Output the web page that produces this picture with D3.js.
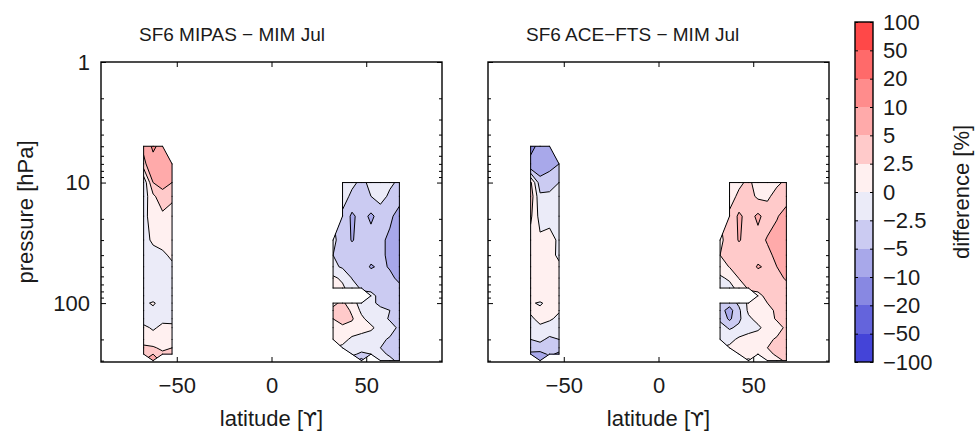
<!DOCTYPE html>
<html><head><meta charset="utf-8">
<script src="https://cdn.jsdelivr.net/npm/d3@7"></script>
<style>
body{margin:0;background:#fff;}
svg text{font-family:"Liberation Sans",Arial,Helvetica,sans-serif;}
</style></head><body>
<svg id="chart" width="976" height="433"></svg>
<script>
// ---------------- data ----------------
const latSouth = [-67.5, -62.5, -57.5, -52.5];
const latNorth = [32.5, 37.5, 42.5, 47.5, 52.5, 57.5, 62.5, 67.5];
const pressureLevels = [5, 7, 10, 13, 19, 30, 40, 50, 62, 75, 87, 100, 115, 135, 160, 200, 235, 265, 300];

// rows = pressure levels (top to bottom), columns = latitudes; null = no data
const mipasSouth = [
  [6, 11, 8, null],
  [4, 8, 7, 6],
  [-2, 5, 6, 5],
  [-1.5, 2, 4, 3],
  [-1, 1.5, 2, 1.5],
  [-1, 0.5, 1, 0.8],
  [-1, -1, -0.5, 0.5],
  [-1, -1.5, -1, -0.5],
  [-1, -0.8, -1.5, -0.5],
  [-1, -1.2, -1, -1],
  [-0.5, -1.3, -1.5, -0.8],
  [-0.5, 0.3, -1, -1],
  [-0.8, -0.5, -1.2, -0.5],
  [-1, -1, -0.5, -1],
  [0.5, -0.3, 0.5, 0.8],
  [1.5, 1, 2, 1.5],
  [3, 2.8, 2, 2.5],
  [4, 5, 3, 4],
  [null, 6, null, null]
];
const mipasNorth = [
  [null, null, null, null, null, null, null, null],
  [null, null, null, null, null, null, null, null],
  [null, -1, -2, -3, -2, -1.5, -2, -3],
  [null, -1.5, -3, -3.5, -2.5, -1.5, -3, -4],
  [null, -3, -5.5, -4, -5.5, -4, -4.5, -6],
  [-2, -3.5, -5.2, -4, -4, -4.5, -5.5, -7],
  [-2.5, -3, -3.5, -3.8, -4, -4.5, -5.5, -6.5],
  [-2, -2.8, -3, -3.5, -5.3, -4.5, -5.2, -6],
  [0.5, -0.5, -2.6, -3, -3.5, -4, -4.5, -5.5],
  [1.2, 0.5, -1.5, -2.8, -3, -3.5, -4, -4.5],
  [null, null, null, null, -2, -3, -3.5, -4],
  [2, 3, 1, -1, -2, -3, -3, -3.5],
  [3, 4, 2, -0.5, -1.5, -2, -2.5, -3],
  [2.5, 3.5, 2.8, 0.5, -1, -1.5, -2.8, -3],
  [1.5, 2, 1.5, 1, 0.5, -1, -1.5, -3],
  [0.5, 0.8, -0.5, -1, -1.5, -2, -2.8, -3],
  [null, -0.5, -1, -1.5, -2, -2.5, -3, -3],
  [null, null, -2, -3, -2.5, -2, -2.8, -3],
  [null, null, null, -6, null, -1, -2, -3]
];
const aceSouth = [
  [-12, -8, -7, null],
  [-8, -7, -6, -5],
  [3, -4, -3.5, -2.5],
  [4, -2, -2, -1.5],
  [3, -1, -1, -0.5],
  [1.5, 0.5, 1, -0.5],
  [1, 1, 0.5, -0.3],
  [0.5, 1.2, 0.5, 0.3],
  [0.8, 0.7, 1, 0.4],
  [0.5, 1, 1.2, 0.5],
  [0.5, 1.5, 0.8, 0.8],
  [0.3, -0.3, 0.8, 0.5],
  [0.5, 0.5, 1, 0.2],
  [-0.5, 0.8, 0.3, -0.5],
  [-1, -0.5, -1, -1.2],
  [-2.5, -2, -3, -2.5],
  [-4, -3.5, -3, -4],
  [-5.5, -6, -4.5, -5.5],
  [null, -7, null, null]
];
const aceNorth = [
  [null, null, null, null, null, null, null, null],
  [null, null, null, null, null, null, null, null],
  [null, 1, 2, 3, 1.5, 1, 2, 3],
  [null, 1.5, 3, 3.5, 2, 2, 3.5, 4],
  [null, 3, 5.5, 4, 5.5, 4, 4.8, 6],
  [2, 3.5, 5.2, 4, 4.2, 5.2, 6, 7],
  [2.5, 3, 3.5, 3.8, 4, 4.5, 5.5, 6.5],
  [1.5, 2.6, 3, 3.5, 5.3, 4.5, 5, 5.8],
  [-0.5, 0.5, 2.6, 3, 3.5, 4, 4.5, 5.2],
  [-1.5, -1, 1, 2.8, 3, 3.5, 4, 4.5],
  [null, null, null, null, 2, 3, 3.5, 4],
  [-3, -4, -2, 0.5, 1.5, 2.5, 3, 3.5],
  [-4, -6, -3, 0.5, 1, 2, 2.8, 3.2],
  [-3, -5.5, -3, -0.5, 0.8, 1.5, 2.8, 3],
  [-1.5, -2.8, -2, -1, -0.5, 1, 1.5, 3],
  [-0.5, -0.8, 0.5, 1, 1.5, 2, 2.8, 3],
  [null, 0.5, 1, 1.5, 2, 2.5, 3, 3],
  [null, null, 2, 2.5, 2.5, 2, 2.8, 3],
  [null, null, null, -1, null, 1, 2, 2.8]
];

const contourLevels = [-100, -50, -20, -10, -5, -2.5, 0, 2.5, 5, 10, 20, 50, 100];
const xTickValues = [-50, 0, 50];
const yTickValues = [1, 10, 100];
const yMinorTicks = [2, 3, 4, 5, 6, 7, 8, 9, 20, 30, 40, 50, 60, 70, 80, 90, 200, 300];
const panelTitles = ["SF6 MIPAS \u2212 MIM Jul", "SF6 ACE\u2212FTS \u2212 MIM Jul"];

// ---------------- style ----------------
const bandColors = ["#4444d8", "#6464dc", "#8888e2", "#a8a8ea", "#cbcbf2", "#ebebf8",
                    "#fff0f0", "#ffcaca", "#ffaaaa", "#ff8c8c", "#ff6a6a", "#ff4848"];
const FS = 22, TFS = 19;
const y0 = 62, y1 = 362;
const svg = d3.select("#chart");
const yScale = d3.scaleLog().domain([1, 308]).range([y0, y1]);
const fmt = d => (d < 0 ? "\u2212" + Math.abs(d) : String(d));

function drawStrip(g, xScale, lats, grid, clipId) {
  const nx = lats.length, ny = pressureLevels.length;
  const valid = grid.map(r => r.map(v => v !== null));
  let vals = grid.map(r => r.slice());
  let guard = 0;
  while (vals.some(r => r.some(v => v === null)) && guard++ < 50) {
    const nv = vals.map(r => r.slice());
    for (let j = 0; j < ny; j++) for (let i = 0; i < nx; i++) {
      if (vals[j][i] !== null) continue;
      const nb = [[i-1,j],[i+1,j],[i,j-1],[i,j+1]]
        .filter(([a,b]) => a >= 0 && a < nx && b >= 0 && b < ny && vals[b][a] !== null)
        .map(([a,b]) => vals[b][a]);
      if (nb.length) nv[j][i] = d3.mean(nb);
    }
    vals = nv;
  }
  const flat = [];
  for (let j = 0; j < ny; j++) for (let i = 0; i < nx; i++) flat.push(vals[j][i]);

  const logP = pressureLevels.map(Math.log10);
  const dLat = lats[1] - lats[0];
  const ry = f => {
    let i = Math.floor(f); i = Math.max(0, Math.min(ny - 2, i));
    const t = f - i;
    return yScale(Math.pow(10, logP[i] + t * (logP[i+1] - logP[i])));
  };
  const rx = f => xScale(lats[0] + f * dLat);
  const proj = d3.geoTransform({ point(x, y) { this.stream.point(rx(x - 0.5), ry(y - 0.5)); } });
  const path = d3.geoPath(proj);

  const gp = (i, j) => [xScale(lats[i]), yScale(pressureLevels[j])];
  let clipD = "";
  const edges = new Map();
  for (let j = 0; j < ny - 1; j++) for (let i = 0; i < nx - 1; i++) {
    const corners = [[i,j],[i+1,j],[i+1,j+1],[i,j+1]].filter(([a,b]) => valid[b][a]);
    if (corners.length < 3) continue;
    clipD += "M" + corners.map(([a,b]) => gp(a,b).join(",")).join("L") + "Z";
    corners.forEach((c, k) => {
      const d = corners[(k + 1) % corners.length];
      const key = [c.join(","), d.join(",")].sort().join("|");
      edges.set(key, (edges.get(key) || 0) + 1);
    });
  }
  g.append("clipPath").attr("id", clipId).append("path").attr("d", clipD);

  const fillG = g.append("g").attr("clip-path", `url(#${clipId})`);
  const lineG = g.append("g").attr("clip-path", `url(#${clipId})`);
  fillG.append("path").attr("d", clipD).attr("fill", bandColors[0]);
  const gen = d3.contours().size([nx, ny]);
  contourLevels.slice(1, -1).forEach((t, k) => {
    const geom = gen.contour(flat, t);
    const d = path(geom);
    if (!d) return;
    fillG.append("path").attr("d", d).attr("fill", bandColors[k + 1]);
    lineG.append("path").attr("d", d).attr("fill", "none")
      .attr("stroke", "#000").attr("stroke-width", 1).attr("stroke-linejoin", "round");
  });
  let outD = "";
  edges.forEach((cnt, key) => {
    if (cnt !== 1) return;
    const [a, b] = key.split("|").map(s => s.split(",").map(Number));
    outD += "M" + gp(a[0], a[1]).join(",") + "L" + gp(b[0], b[1]).join(",");
  });
  g.append("path").attr("d", outD).attr("fill", "none").attr("stroke", "#000")
    .attr("stroke-width", 1).attr("stroke-linecap", "round");
}

function styleAxis(sel) {
  sel.attr("font-size", FS).attr("font-family", '"Liberation Sans", Arial, sans-serif').attr("color", "#000");
  sel.select(".domain").remove();
  sel.selectAll(".tick line").attr("stroke-width", 1);
  sel.selectAll(".tick text").attr("fill", "#1a1a1a");
}

const panels = [
  { x0: 101, x1: 442, south: mipasSouth, north: mipasNorth, title: panelTitles[0], ylabels: true },
  { x0: 488, x1: 829, south: aceSouth, north: aceNorth, title: panelTitles[1], ylabels: false }
];

panels.forEach((p, pi) => {
  const xScale = d3.scaleLinear().domain([-90, 90]).range([p.x0, p.x1]);
  const g = svg.append("g");
  drawStrip(g, xScale, latSouth, p.south, `clip${pi}s`);
  drawStrip(g, xScale, latNorth, p.north, `clip${pi}n`);

  g.append("g").attr("transform", `translate(0,${y1})`)
    .call(d3.axisBottom(xScale).tickValues(xTickValues).tickSizeInner(-5).tickSizeOuter(0).tickPadding(15).tickFormat(fmt))
    .call(styleAxis);
  g.append("g").attr("transform", `translate(0,${y0})`)
    .call(d3.axisTop(xScale).tickValues(xTickValues).tickSizeInner(-5).tickSizeOuter(0).tickFormat(""))
    .call(styleAxis);
  g.append("g").attr("transform", `translate(${p.x0},0)`)
    .call(d3.axisLeft(yScale).tickValues(yTickValues).tickSizeInner(-5).tickSizeOuter(0).tickPadding(11)
      .tickFormat(p.ylabels ? d => String(d) : ""))
    .call(styleAxis);
  g.append("g").attr("transform", `translate(${p.x0},0)`)
    .call(d3.axisLeft(yScale).tickValues(yMinorTicks).tickSizeInner(-3).tickSizeOuter(0).tickFormat(""))
    .call(styleAxis);
  g.append("g").attr("transform", `translate(${p.x1},0)`)
    .call(d3.axisRight(yScale).tickValues(yTickValues).tickSizeInner(-5).tickSizeOuter(0).tickFormat(""))
    .call(styleAxis);
  g.append("g").attr("transform", `translate(${p.x1},0)`)
    .call(d3.axisRight(yScale).tickValues(yMinorTicks).tickSizeInner(-3).tickSizeOuter(0).tickFormat(""))
    .call(styleAxis);

  g.append("rect").attr("x", p.x0).attr("y", y0).attr("width", p.x1 - p.x0).attr("height", y1 - y0)
    .attr("fill", "none").attr("stroke", "#000").attr("stroke-width", 1.4);

  const cx = (p.x0 + p.x1) / 2;
  g.append("text").attr("x", p.x0 + 38).attr("y", 41).attr("text-anchor", "start")
    .attr("font-size", TFS).attr("fill", "#1a1a1a").text(p.title);
  const xl = g.append("text").attr("x", cx).attr("y", 426).attr("text-anchor", "middle")
    .attr("font-size", FS).attr("fill", "#1a1a1a");
  xl.append("tspan").text("latitude [");
  xl.append("tspan").attr("font-family", '"DejaVu Sans", sans-serif').attr("font-size", FS - 2).text("\u03D2");
  xl.append("tspan").text("]");
  if (p.ylabels) {
    g.append("text").attr("transform", `translate(25,${(y0 + y1) / 2}) rotate(-90)`)
      .attr("text-anchor", "middle").attr("dominant-baseline", "central")
      .attr("font-size", FS).attr("fill", "#1a1a1a").text("pressure [hPa]");
  }
});

// ---------------- colorbar ----------------
const cbX0 = 855, cbX1 = 873, cbY0 = 22, cbY1 = 362;
const cbScale = d3.scaleLinear().domain([0, bandColors.length]).range([cbY1, cbY0]);
const cb = svg.append("g");
cb.selectAll("rect.band").data(bandColors).join("rect").attr("class", "band")
  .attr("x", cbX0).attr("width", cbX1 - cbX0)
  .attr("y", (c, i) => cbScale(i + 1)).attr("height", (c, i) => cbScale(i) - cbScale(i + 1))
  .attr("fill", c => c).attr("shape-rendering", "crispEdges");
cb.append("g").attr("transform", `translate(${cbX1},0)`)
  .call(d3.axisRight(cbScale).tickValues(d3.range(contourLevels.length)).tickSizeInner(-3).tickSizeOuter(0)
    .tickPadding(10).tickFormat(i => fmt(contourLevels[i])))
  .call(styleAxis);
cb.append("g").attr("transform", `translate(${cbX0},0)`)
  .call(d3.axisLeft(cbScale).tickValues(d3.range(contourLevels.length)).tickSizeInner(-3).tickSizeOuter(0).tickFormat(""))
  .call(styleAxis);
cb.append("rect").attr("x", cbX0).attr("y", cbY0).attr("width", cbX1 - cbX0).attr("height", cbY1 - cbY0)
  .attr("fill", "none").attr("stroke", "#000").attr("stroke-width", 1.4);
cb.append("text").attr("transform", `translate(961,${(cbY0 + cbY1) / 2}) rotate(-90)`)
  .attr("text-anchor", "middle").attr("dominant-baseline", "central")
  .attr("font-size", FS).attr("fill", "#1a1a1a").text("difference [%]");
</script>
</body></html>
